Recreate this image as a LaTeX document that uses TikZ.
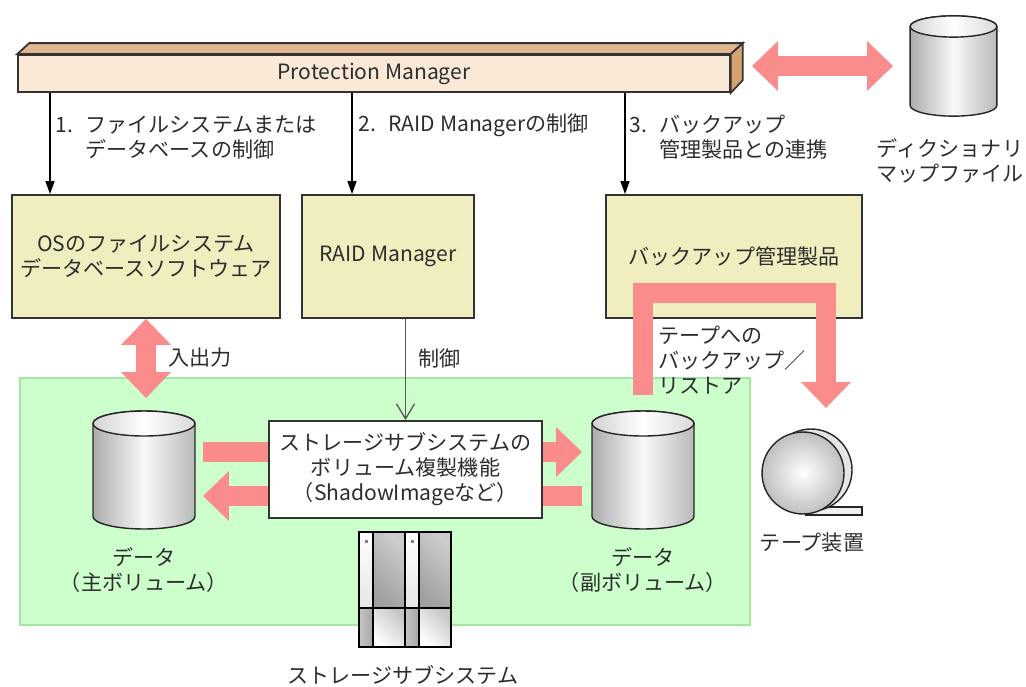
\documentclass[tikz,border=0pt]{standalone}
\usepackage{fontspec}
\setmainfont{Noto Sans CJK JP}
\usetikzlibrary{arrows.meta}
\definecolor{pmfront}{RGB}{250,233,215}
\definecolor{pmtop}{RGB}{224,182,140}
\definecolor{pmside}{RGB}{214,162,112}
\definecolor{boxfill}{RGB}{240,237,190}
\definecolor{subfill}{RGB}{204,255,204}
\definecolor{subline}{RGB}{165,230,165}
\definecolor{flow}{RGB}{250,140,140}
\definecolor{ink}{RGB}{45,45,45}

\begin{document}
\begin{tikzpicture}[x=0.02cm, y=-0.02cm,
    font=\fontsize{12}{14.2}\selectfont, text=ink,
    comp/.style={draw=black!80, line width=1pt, fill=boxfill, align=center, inner sep=0pt},
    lbl/.style={align=left, inner sep=0pt},
    call/.style={draw=black, line width=0.75pt, -{Triangle[length=0.26cm, width=0.18cm]}},
    ctrl/.style={draw=black!65, line width=0.75pt, -{Straight Barb[length=0.3cm, width=0.36cm]}},
    fat/.style={draw=flow, line width=0.4cm, line join=miter},
    fathead/.tip={Triangle[length=0.52cm, width=1cm, line width=0pt]},
    drum/.pic={
      \shade[draw=black!85, line width=0.8pt, left color=gray!65, right color=gray!55, middle color=gray!5]
        (-1.02cm,0.93cm) -- (-1.02cm,-0.93cm)
        arc[start angle=180, end angle=360, x radius=1.02cm, y radius=0.25cm]
        -- (1.02cm,0.93cm)
        arc[start angle=0, end angle=180, x radius=1.02cm, y radius=0.25cm] -- cycle;
      \shade[draw=black!85, line width=0.8pt, left color=gray!35, right color=gray!30, middle color=white]
        (0cm,0.93cm) ellipse[x radius=1.02cm, y radius=0.25cm];
      \coordinate (-east) at (1.02cm,0cm);
      \coordinate (-west) at (-1.02cm,0cm);
      \coordinate (-north) at (0cm,1.18cm);
    },
    rackunit/.pic={
      \shade[top color=white, bottom color=gray!20] (0cm,0cm) rectangle (0.28cm,-1.52cm);
      \shade[left color=gray!75, right color=gray!40, shading angle=135]
        (0.28cm,0cm) rectangle (0.92cm,-1.52cm);
      \shade[left color=gray!45, right color=gray!70] (0cm,-1.52cm) rectangle (0.28cm,-2.3cm);
      \shade[left color=white, right color=gray!45, shading angle=135]
        (0.28cm,-1.52cm) rectangle (0.92cm,-2.3cm);
      \draw[line width=0.8pt] (0cm,0cm) rectangle (0.92cm,-2.3cm)
        (0.28cm,0cm) -- (0.28cm,-2.3cm) (0cm,-1.52cm) -- (0.92cm,-1.52cm);
      \fill[gray] (0.11cm,-0.15cm) rectangle (0.17cm,-0.21cm);
    }]
  \useasboundingbox (0,0) rectangle (1026,686);

  \node[draw=subline, fill=subfill, line width=1pt, minimum width=14.6cm, minimum height=4.94cm,
    inner sep=0pt] (sub) at (385,501.5) {};

  \node[draw=black!80, line width=1pt, fill=pmfront, minimum width=14.24cm, minimum height=0.74cm,
    inner sep=0pt] (pm) at (374,73.5) {Protection Manager};
  \filldraw[draw=black!80, line width=1pt, fill=pmtop] (pm.north west) -- ++(12,-11)
    -- ([shift={(12,-11)}]pm.north east) -- (pm.north east) -- cycle;
  \filldraw[draw=black!80, line width=1pt, fill=pmside] (pm.north east) -- ++(12,-11)
    -- ++(0,37) -- (pm.south east) -- cycle;

  \node[comp, minimum width=5.36cm, minimum height=2.46cm] (os) at (146,256.5)
    {OSのファイルシステム\\データベースソフトウェア};
  \node[comp, minimum width=3.44cm, minimum height=2.46cm] (raid) at (388,256.5) {RAID Manager};
  \node[comp, minimum width=5.12cm, minimum height=2.46cm] (bk) at (734,256.5) {バックアップ管理製品};

  \coordinate (c1) at (50,0);
  \coordinate (c2) at (352,0);
  \coordinate (c3) at (625,0);
  \draw[call] (c1 |- pm.south) -- (c1 |- os.north);
  \draw[call] (c2 |- pm.south) -- (c2 |- raid.north);
  \draw[call] (c3 |- pm.south) -- (c3 |- bk.north);
  \node[lbl, anchor=west] (l1) at (55,137.5)
    {1.\hspace{0.6em}ファイルシステムまたは\\\hphantom{1.\hspace{0.6em}}データベースの制御};
  \node[lbl, anchor=west] (l2) at (358,125) {2.\hspace{0.6em}RAID Managerの制御};
  \node[lbl, anchor=west] (l3) at (629,137.5)
    {3.\hspace{0.6em}バックアップ\\\hphantom{3.\hspace{0.6em}}管理製品との連携};

  \pic[scale=0.85] (dict) at (953.5,66) {drum};
  \node[align=center] (dictlbl) at (950,161) {ディクショナリ\\マップファイル};
  \coordinate (pmside) at (752,66);
  \coordinate (dictside) at (893,66);
  \draw[fat, fathead-fathead] (pmside) -- (dictside);

  \pic (v1) at (144,470) {drum};
  \pic (v2) at (643,470) {drum};
  \node[align=center] (v1lbl) at (144,570) {データ\\（主ボリューム）};
  \node[align=center] (v2lbl) at (643,570) {データ\\（副ボリューム）};

  \draw[fat, -fathead] ([shift={(8,-18)}]v1-east) -- ([shift={(-10,-18)}]v2-west);
  \draw[fat, -fathead] ([shift={(-10,26)}]v2-west) -- ([shift={(8,26)}]v1-east);
  \node[draw=black!80, line width=1pt, fill=white, align=center, inner sep=0pt,
    minimum width=5.46cm, minimum height=1.94cm] (repl) at (405.5,469.5)
    {ストレージサブシステムの\\ボリューム複製機能\\（ShadowImageなど）};

  \draw[ctrl] (raid.south -| repl.north) -- (repl.north);
  \node[anchor=west, inner sep=0pt] (ctrllbl) at (418,358) {制御};

  \coordinate (ioend) at (146,398);
  \draw[fat, fathead-fathead] (os.south) -- (ioend);
  \node[anchor=west, inner sep=0pt] (iolbl) at (168,358) {入出力};

  \pic at (359,532) {rackunit};
  \pic at (405,532) {rackunit};
  \draw[line width=1pt] (359,532) rectangle (451,647);
  \node (sslbl) at (403,675) {ストレージサブシステム};

  \filldraw[draw=black!85, fill=gray!12, line width=0.8pt] (806,507) rectangle (862,515);
  \filldraw[draw=black!85, fill=gray!20, line width=0.8pt] (811,470) circle[radius=0.82cm];
  \shade[draw=black!85, inner color=white, outer color=gray!50, line width=0.8pt]
    (803,473) circle[radius=0.82cm];
  \node (tapelbl) at (812,543) {テープ装置};

  \coordinate (bkstart) at (643,395);
  \coordinate (bktop) at (826,293);
  \coordinate (tapein) at (826,408);
  \draw[fat, -fathead] (bkstart) |- (bktop) -- (tapein);
  \node[lbl, anchor=west] (bklbl) at (658,360) {テープへの\\バックアップ／\\リストア};
\end{tikzpicture}
\end{document}
